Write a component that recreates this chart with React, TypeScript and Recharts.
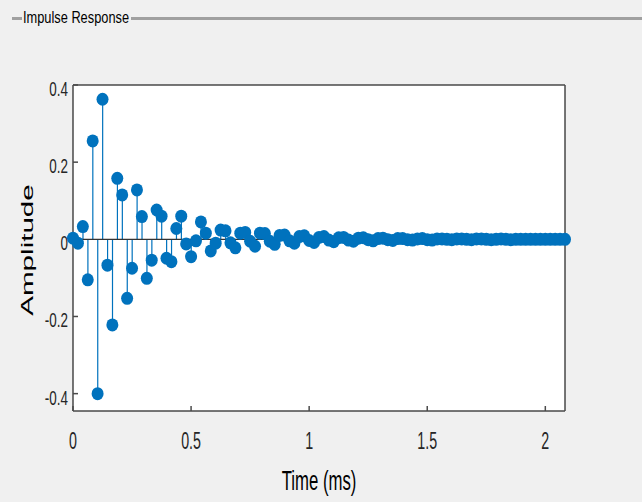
import React from 'react';
import { ComposedChart, XAxis, YAxis, CartesianGrid, Bar, Scatter, ReferenceLine } from 'recharts';

// filter taps, sampled at 48 kHz
const SAMPLE_PERIOD_MS = 1 / 48;

const headTaps = [
  0.003, -0.01, 0.033, -0.105, 0.255, -0.4, 0.363, -0.067, -0.222, 0.158,
  0.115, -0.153, -0.075, 0.128, 0.059, -0.101, -0.054, 0.076, 0.06, -0.049,
  -0.058, 0.028, 0.06, -0.012, -0.045,
];
const ringTaps = [
  -0.004, 0.045, 0.016, -0.03, -0.01, 0.024, 0.022, -0.009, -0.022, 0.016,
  0.018, -0.005, -0.018, 0.016, 0.015, -0.005, -0.013, 0.01, 0.011, -0.004,
  -0.01, 0.007, 0.009, -0.003, -0.008,
];
const tailTaps = [
  0.005, 0.007, -0.002, -0.006, 0.004, 0.005, -0.002, -0.005, 0.003, 0.004,
  -0.001, -0.004, 0.002, 0.003, -0.001, -0.003, 0.002, 0.002, -0.001, -0.002,
  0.001, 0.002, -0.001, -0.002, 0.001, 0.001, 0, -0.001, 0.001, 0.001,
  0, -0.001, 0.001, 0.001, 0, -0.001, 0, 0.001, 0, -0.001,
  0, 0, 0, 0, 0, 0, 0, 0, 0, 0, 0,
];

const xTicks = [0, 0.5, 1, 1.5, 2];
const yTicks = [-0.4, -0.2, 0, 0.2, 0.4];

const taps = [...headTaps, ...ringTaps, ...tailTaps];
const data = taps.map((v, n) => ({ t: n * SAMPLE_PERIOD_MS, v }));
const tMax = (taps.length - 1) * SAMPLE_PERIOD_MS;

const BLUE = '#0072BD';
const AXIS = '#4a4a4a';
const FONT = '"Liberation Sans", Arial, sans-serif';

const StemHead = (props: any) => (
  <ellipse cx={props.cx} cy={props.cy} rx={6} ry={6.5} fill={BLUE} />
);

const XTick = (props: any) => (
  <text
    transform={`translate(${props.x},449) scale(0.62,1)`}
    textAnchor="middle"
    fontFamily={FONT}
    fontSize={23}
    fill="#262626"
  >
    {props.payload.value}
  </text>
);

const YTick = (props: any) => (
  <text
    transform={`translate(${props.x},${props.y + 11}) scale(0.64,1)`}
    textAnchor="end"
    fontFamily={FONT}
    fontSize={21}
    fill="#262626"
  >
    {props.payload.value}
  </text>
);

const TimeLabel = () => (
  <text
    transform="translate(319,490) scale(0.62,1)"
    textAnchor="middle"
    fontFamily={FONT}
    fontSize={27}
    fill="#000"
  >
    Time (ms)
  </text>
);

const AmpLabel = () => (
  <text
    transform="translate(33,250) rotate(-90) scale(1.85,1)"
    textAnchor="middle"
    fontFamily={FONT}
    fontSize={16}
    fill="#000"
  >
    Amplitude
  </text>
);

export default function App() {
  return (
    <div style={{ position: 'absolute', left: 0, top: 0, width: 642, height: 502, background: '#f0f0f0', overflow: 'hidden' }}>
      <div style={{ position: 'absolute', left: 12, top: 17, width: 10, height: 3, background: '#a0a0a0' }} />
      <div
        style={{
          position: 'absolute', left: 23, top: 8, fontFamily: FONT, fontSize: 16, lineHeight: '20px',
          transform: 'scaleX(0.8)', transformOrigin: 'left top', whiteSpace: 'nowrap', color: '#000',
        }}
      >
        Impulse Response
      </div>
      <div style={{ position: 'absolute', left: 131, top: 17, width: 511, height: 3, background: '#a0a0a0' }} />

      <ComposedChart
        width={642}
        height={502}
        data={data}
        margin={{ top: 84, right: 76, bottom: 0, left: 0 }}
        style={{ position: 'absolute', left: 0, top: 0 }}
      >
        <rect x={73} y={85} width={492} height={326} fill="#ffffff" />
        <CartesianGrid stroke="#e2e2e2" strokeWidth={1.2} />
        <XAxis
          dataKey="t"
          type="number"
          domain={[0, tMax]}
          ticks={xTicks}
          height={91}
          stroke={AXIS}
          strokeWidth={1.5}
          tickSize={-5}
          tickMargin={0}
          tick={<XTick />}
          label={<TimeLabel />}
        />
        <XAxis
          xAxisId="top"
          type="number"
          orientation="top"
          domain={[0, tMax]}
          ticks={xTicks}
          height={1}
          stroke={AXIS}
          strokeWidth={1.5}
          tickSize={-5}
          tick={false}
        />
        <YAxis
          type="number"
          domain={[-0.445, 0.4]}
          ticks={yTicks}
          width={73}
          stroke={AXIS}
          strokeWidth={1.5}
          tickSize={-5}
          tickMargin={10}
          tick={<YTick />}
          label={<AmpLabel />}
        />
        <YAxis
          yAxisId="r"
          type="number"
          orientation="right"
          domain={[-0.445, 0.4]}
          ticks={yTicks}
          width={1}
          stroke={AXIS}
          strokeWidth={1.5}
          tickSize={-5}
          tick={false}
        />
        <ReferenceLine y={0} stroke="#333333" strokeWidth={1.3} />
        <Bar dataKey="v" barSize={1.2} fill={BLUE} isAnimationActive={false} />
        <Scatter dataKey="v" shape={StemHead} isAnimationActive={false} />
      </ComposedChart>
    </div>
  );
}
